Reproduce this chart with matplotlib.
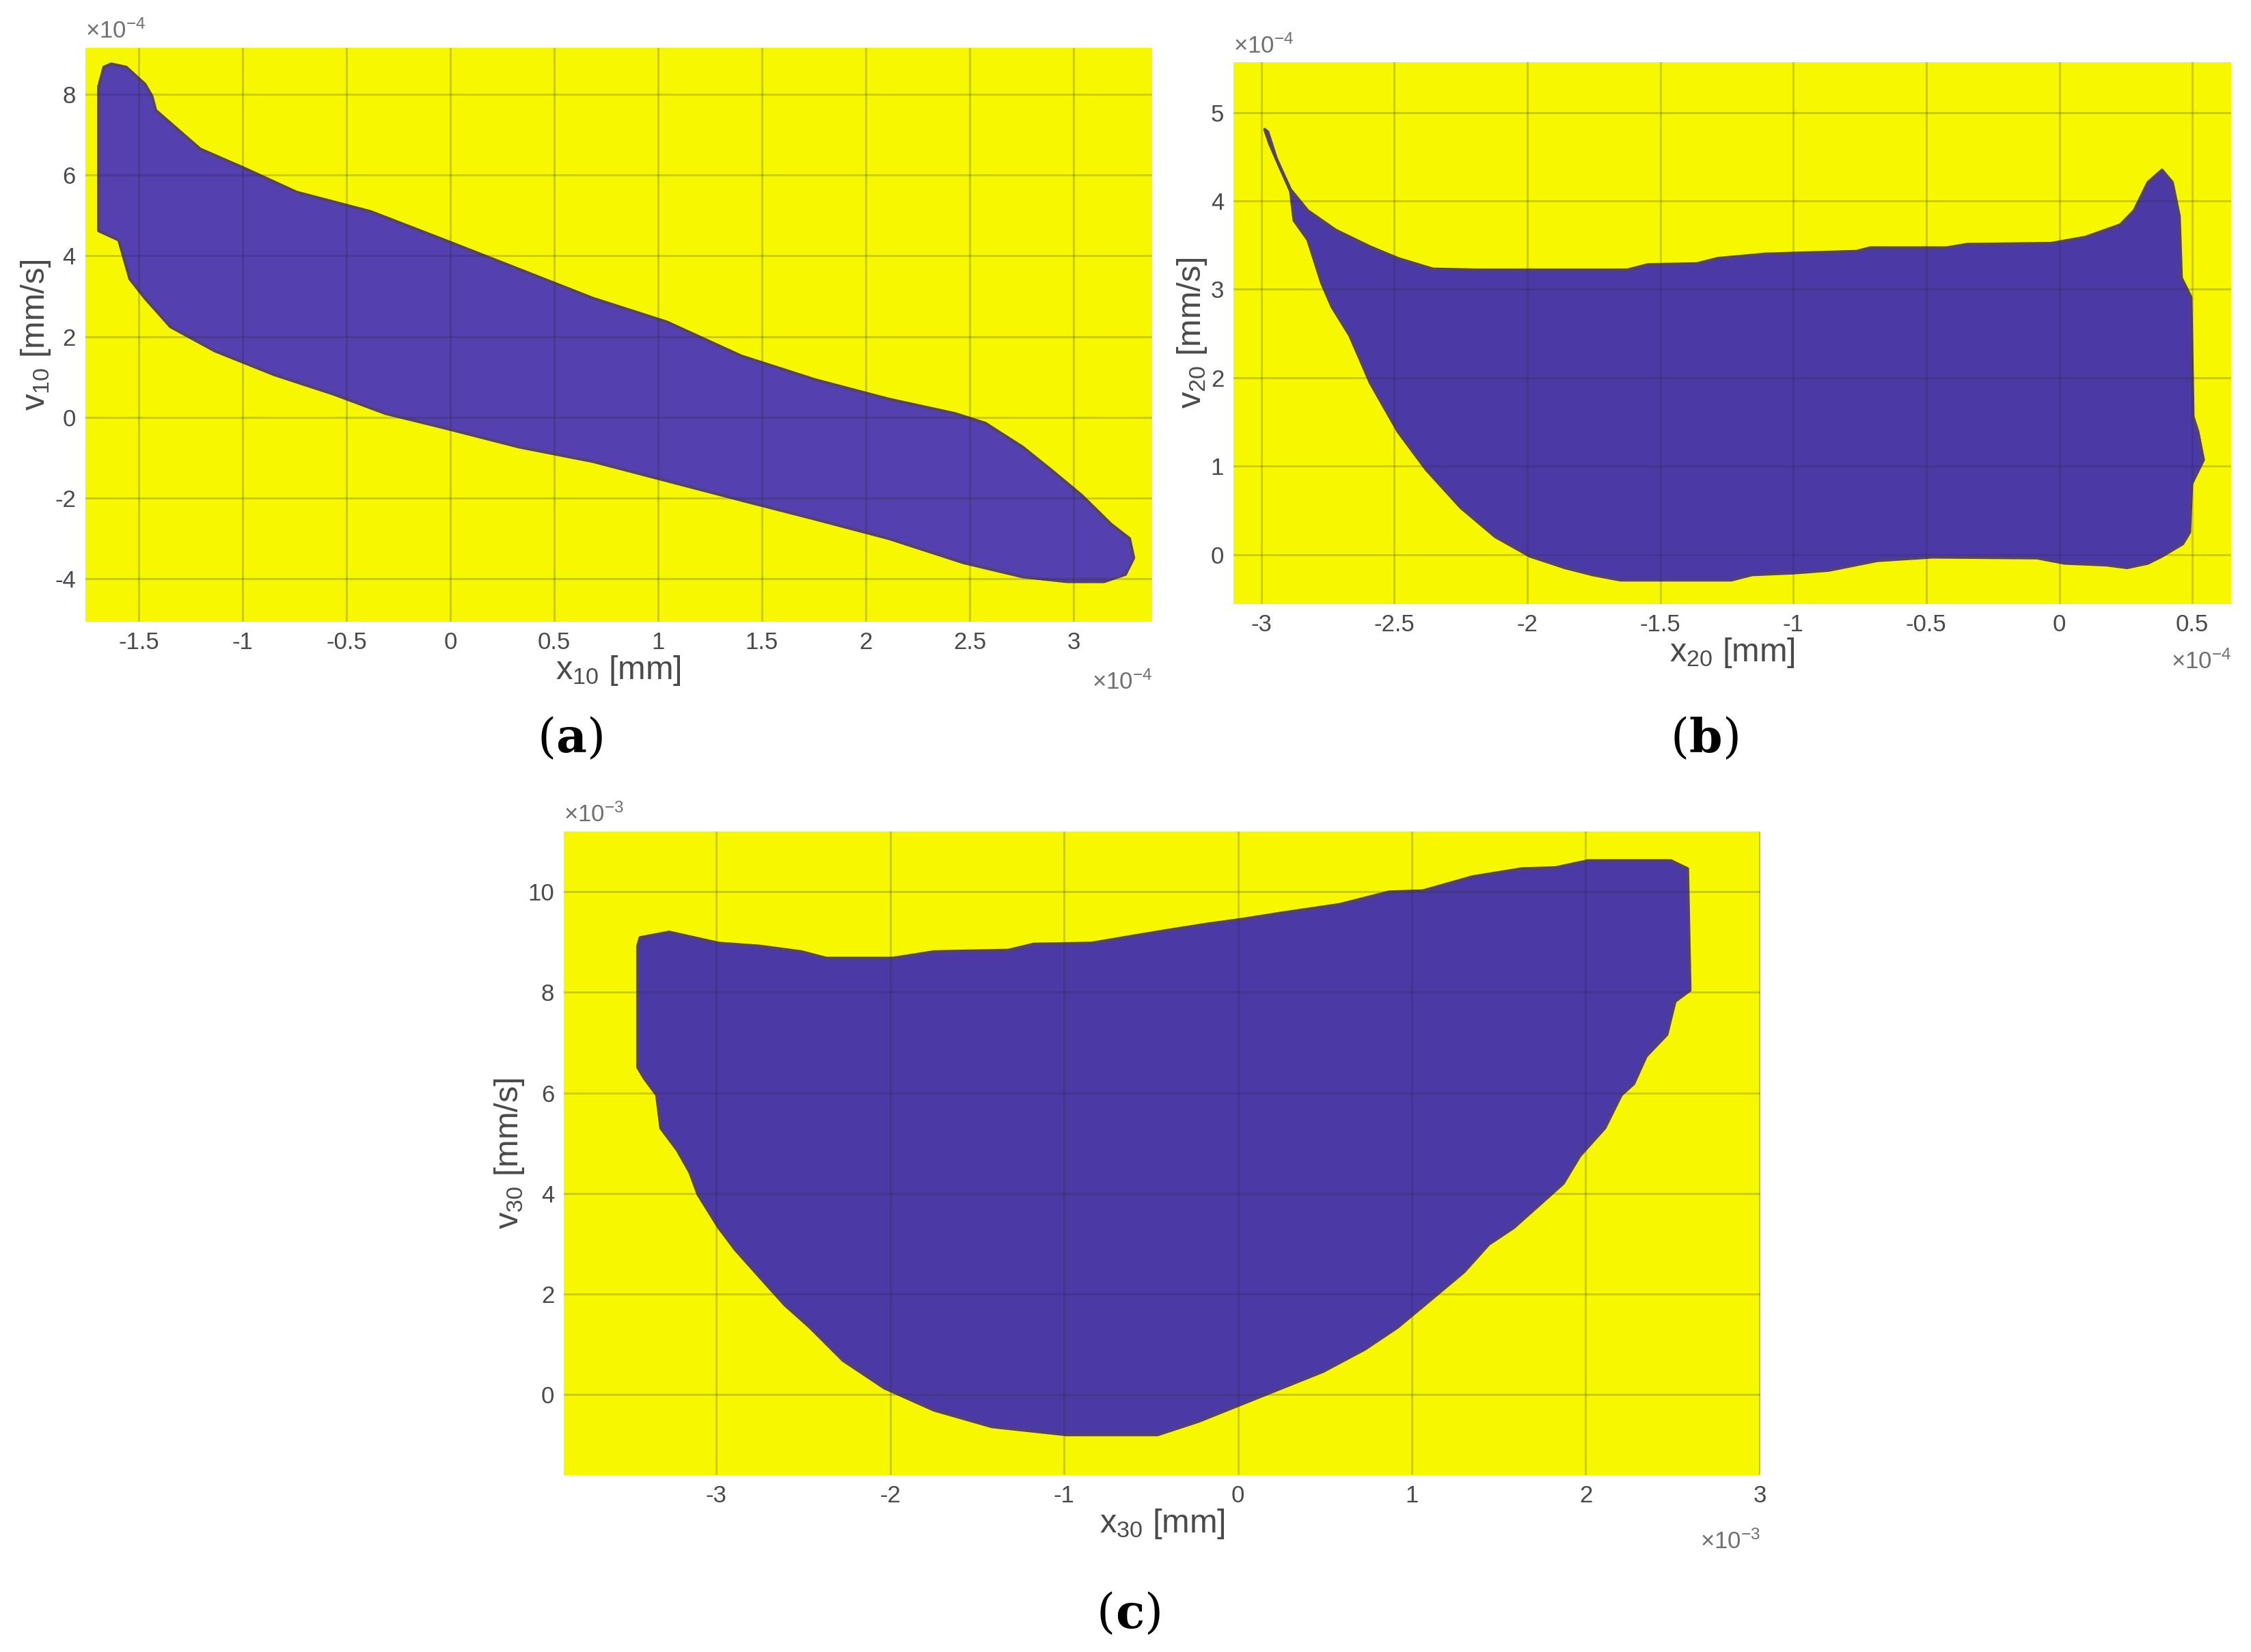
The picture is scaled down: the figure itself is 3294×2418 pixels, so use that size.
import matplotlib
matplotlib.use('Agg')
import matplotlib.pyplot as plt
from matplotlib.patches import Polygon
from matplotlib.offsetbox import TextArea, HPacker, AnnotationBbox

plt.rcParams['font.family'] = ['Liberation Sans', 'DejaVu Sans']
plt.rcParams['mathtext.fontset'] = 'custom'
plt.rcParams['mathtext.rm'] = 'Liberation Sans'
plt.rcParams['mathtext.it'] = 'Liberation Sans'

YELLOW = '#f7f700'
PURPLE_A = '#5540b0'
PURPLE = '#4b3aa6'
TXT = '#4a4a4a'

# ---- panel (a): x10 [1e-4 mm], v10 [1e-4 mm/s] boundary of the region
a_x = [-1.693, -1.668, -1.632, -1.56, -1.47, -1.436, -1.418, -1.204, -0.99, -0.74,
       -0.384, -0.027, 0.33, 0.686, 1.043, 1.4, 1.756, 2.11, 2.43, 2.576,
       2.755, 2.9, 3.04, 3.18, 3.27, 3.29, 3.25, 3.147, 2.97, 2.755,
       2.47, 2.11, 1.756, 1.4, 1.043, 0.686, 0.33, -0.027, -0.312, -0.562,
       -0.847, -1.133, -1.347, -1.47, -1.543, -1.596, -1.693]
a_v = [8.2, 8.68, 8.76, 8.68, 8.26, 7.96, 7.61, 6.65, 6.17, 5.58,
       5.10, 4.39, 3.67, 2.95, 2.36, 1.52, 0.93, 0.45, 0.09, -0.15,
       -0.74, -1.34, -1.94, -2.65, -3.01, -3.49, -3.9, -4.08, -4.08, -3.96,
       -3.61, -3.01, -2.53, -2.06, -1.58, -1.10, -0.74, -0.27, 0.09, 0.57,
       1.05, 1.64, 2.24, 2.95, 3.43, 4.39, 4.62]

# ---- panel (b): x20 [1e-4 mm], v20 [1e-4 mm/s]
b_x = [-2.987, -2.975, -2.943, -2.89, -2.825, -2.72, -2.59, -2.486, -2.355, -2.2,
       -1.624, -1.546, -1.363, -1.285, -1.102, -0.763, -0.711, -0.424, -0.345, -0.032,
       0.098, 0.229, 0.281, 0.333, 0.386, 0.425, 0.451, 0.459, 0.495, 0.503,
       0.521, 0.542, 0.516, 0.498, 0.49, 0.464, 0.386, 0.333, 0.255, 0.177,
       0.02, -0.084, -0.476, -0.684, -0.867, -0.998, -1.155, -1.233, -1.65, -1.755,
       -1.859, -1.99, -2.12, -2.25, -2.38, -2.486, -2.59, -2.668, -2.734, -2.773,
       -2.825, -2.877, -2.89, -2.93, -2.969]
b_v = [4.81, 4.78, 4.48, 4.13, 3.89, 3.67, 3.48, 3.35, 3.23, 3.22,
       3.22, 3.28, 3.29, 3.35, 3.40, 3.43, 3.47, 3.47, 3.51, 3.52,
       3.59, 3.73, 3.89, 4.21, 4.35, 4.21, 3.83, 3.13, 2.91, 1.56,
       1.39, 1.07, 0.91, 0.80, 0.25, 0.12, -0.02, -0.10, -0.15, -0.12,
       -0.10, -0.04, -0.03, -0.07, -0.18, -0.21, -0.23, -0.29, -0.29, -0.23,
       -0.15, -0.02, 0.20, 0.53, 0.96, 1.39, 1.94, 2.48, 2.80, 3.07,
       3.56, 3.78, 4.11, 4.38, 4.65]

# ---- panel (c): x30 [1e-3 mm], v30 [1e-3 mm/s]
c_x = [-3.452, -3.438, -3.271, -2.986, -2.748, -2.51, -2.367, -1.986, -1.748, -1.319,
       -1.176, -0.843, -0.605, -0.414, -0.176, 0.014, 0.252, 0.586, 0.871, 1.062,
       1.348, 1.633, 1.824, 2.014, 2.49, 2.586, 2.6, 2.514, 2.467, 2.348,
       2.276, 2.205, 2.11, 1.967, 1.871, 1.729, 1.586, 1.443, 1.3, 1.11,
       0.919, 0.729, 0.49, 0.252, 0.014, -0.224, -0.462, -0.986, -1.414, -1.748,
       -2.033, -2.271, -2.462, -2.605, -2.748, -2.89, -2.986, -3.105, -3.152, -3.224,
       -3.319, -3.343, -3.414, -3.452]
c_v = [8.92, 9.09, 9.20, 8.98, 8.92, 8.81, 8.68, 8.68, 8.81, 8.84,
       8.96, 8.98, 9.12, 9.23, 9.36, 9.45, 9.58, 9.75, 10.0, 10.02,
       10.30, 10.46, 10.48, 10.62, 10.62, 10.46, 8.04, 7.82, 7.16, 6.73,
       6.18, 5.96, 5.30, 4.75, 4.20, 3.76, 3.32, 2.99, 2.44, 1.89,
       1.34, 0.90, 0.46, 0.13, -0.20, -0.53, -0.80, -0.80, -0.64, -0.31,
       0.13, 0.68, 1.34, 1.78, 2.33, 2.88, 3.32, 3.98, 4.42, 4.86,
       5.30, 5.96, 6.29, 6.51]

a_xticks = [-1.5, -1, -0.5, 0, 0.5, 1, 1.5, 2, 2.5, 3]
a_yticks = [-4, -2, 0, 2, 4, 6, 8]
b_xticks = [-3, -2.5, -2, -1.5, -1, -0.5, 0, 0.5]
b_yticks = [0, 1, 2, 3, 4, 5]
c_xticks = [-3, -2, -1, 0, 1, 2, 3]
c_yticks = [0, 2, 4, 6, 8, 10]

fig = plt.figure(figsize=(32.94, 24.18), dpi=100)


def exp_label(ax, x, y, exp, ha, va):
    ax.text(x, y, '\u00d710$^{' + exp + '}$', transform=ax.transAxes,
            fontsize=25, color='#707070', ha=ha, va=va)


def panel(rect, xs, vs, color, xlim, ylim, xt, yt, sub, exp):
    ax = fig.add_axes(rect)
    ax.set_facecolor(YELLOW)
    ax.add_patch(Polygon(list(zip(xs, vs)), closed=True, facecolor=color,
                         edgecolor='#554466', lw=3, joinstyle='round', zorder=2))
    ax.set_xlim(*xlim); ax.set_ylim(*ylim)
    ax.set_xticks(xt); ax.set_yticks(yt)
    ax.set_xticklabels([f'{t:g}' for t in xt])
    ax.set_yticklabels([f'{t:g}' for t in yt])
    ax.grid(True, color='#262626', alpha=0.2, lw=2.2, zorder=3)
    ax.set_axisbelow(False)
    for s in ax.spines.values():
        s.set_visible(False)
    ax.tick_params(length=0, labelsize=25, colors=TXT, pad=10)
    ax.set_xlabel('x$_{' + sub + '}$ [mm]', fontsize=35, color=TXT, labelpad=0)
    ax.set_ylabel('v$_{' + sub + '}$ [mm/s]', fontsize=35, color=TXT, labelpad=2)
    exp_label(ax, 0.0, 1.008, '\\mathrm{-' + exp + '}', 'left', 'bottom')
    exp_label(ax, 1.0, -0.085, '\\mathrm{-' + exp + '}', 'right', 'top')
    return ax


panel([0.0379, 0.6237, 0.4739, 0.3474], a_x, a_v, PURPLE_A,
      (-1.757, 3.378), (-5.07, 9.16), a_xticks, a_yticks, '10', '4')
panel([0.548, 0.6344, 0.4432, 0.328], b_x, b_v, PURPLE,
      (-3.104, 0.646), (-0.56, 5.57), b_xticks, b_yticks, '20', '4')
panel([0.2505, 0.1071, 0.5316, 0.3896], c_x, c_v, PURPLE,
      (-3.876, 3.005), (-1.6, 11.2), c_xticks, c_yticks, '30', '3')

# sub-figure captions: thin parentheses, bold letter
for lab, cx, cy in [('a', 836, 1082), ('b', 2496, 1082), ('c', 1653, 2363)]:
    parts = [TextArea('(', textprops=dict(family='DejaVu Serif', size=50)),
             TextArea(lab, textprops=dict(family='DejaVu Serif', size=50, weight='bold')),
             TextArea(')', textprops=dict(family='DejaVu Serif', size=50))]
    box = HPacker(children=parts, align='baseline', pad=0, sep=0)
    fig.add_artist(AnnotationBbox(box, (cx / 3294, 1 - cy / 2418),
                                  xycoords='figure fraction', frameon=False))

fig.savefig('out.png', dpi=100)
